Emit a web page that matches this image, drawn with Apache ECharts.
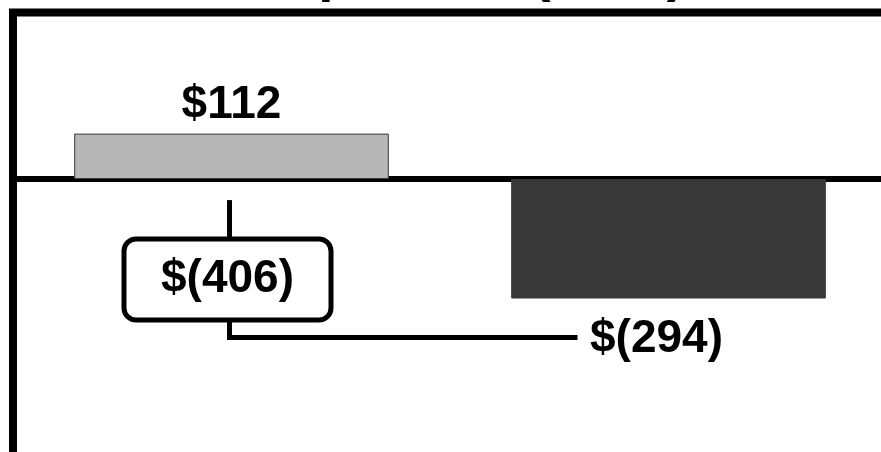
<!DOCTYPE html>
<html>
<head>
<meta charset="utf-8">
<script src="https://cdn.jsdelivr.net/npm/echarts@6/dist/echarts.min.js"></script>
<style>
html, body { margin: 0; padding: 0; background: #fff; }
#chart { width: 881px; height: 452px; }
</style>
</head>
<body>
<div id="chart"></div>
<script>
// data
const titleText = 'Comparison (USD)'
const categories = ['Prior', 'Current']
const values = [112, -294]
const barColors = ['#b7b7b7', '#383838']

const font = '"Liberation Sans", Arial, sans-serif'
// $ formatting, negatives in brackets
const fmt = v => v < 0 ? '$(' + Math.abs(v) + ')' : '$' + v
const diff = values[1] - values[0]

const chart = echarts.init(document.getElementById('chart'))
chart.setOption({
  animation: false,
  title: {
    text: titleText,
    left: 'center',
    top: -53,
    padding: 0,
    textStyle: { fontSize: 55, fontWeight: 'bold', color: '#000', fontFamily: font }
  },
  grid: {
    left: 13,
    top: 12.5,
    width: 874,
    height: 451,
    outerBoundsMode: 'none',
    containLabel: false,
    show: true,
    borderColor: '#000',
    borderWidth: 8
  },
  xAxis: {
    type: 'category',
    data: categories,
    axisLine: { onZero: true, lineStyle: { color: '#000', width: 6 } },
    axisTick: { show: false },
    axisLabel: { show: false },
    splitLine: { show: false }
  },
  yAxis: {
    type: 'value',
    min: -700,
    max: 410,
    axisLine: { show: false },
    axisTick: { show: false },
    axisLabel: { show: false },
    splitLine: { show: false }
  },
  series: [
    {
      type: 'bar',
      barWidth: '72%',
      itemStyle: { borderColor: '#3a3a3a', borderWidth: 1 },
      label: {
        show: true,
        position: 'outside',
        formatter: p => fmt(p.value),
        fontSize: 46,
        fontWeight: 'bold',
        fontFamily: font,
        color: '#000'
      },
      data: values.map((v, i) => ({
        value: v,
        itemStyle: { color: barColors[i] },
        label: v < 0 ? { distance: 18, offset: [-12, 0] } : { distance: 5 }
      }))
    },
    {
      // difference callout
      type: 'custom',
      silent: true,
      z: 5,
      data: [[0, diff]],
      renderItem: (params, api) => {
        const [x0, y0] = api.coord([0, 0])
        const x1 = api.coord([1, 0])[0]
        const yEnd = api.coord([1, values[1]])[1]
        const lx = x0 - 2
        const bx = x0 - 4
        const boxW = 207, boxH = 81
        const boxTop = y0 + 60
        const lineY = yEnd + 39
        return {
          type: 'group',
          children: [
            { type: 'line', shape: { x1: lx, y1: y0 + 21, x2: lx, y2: boxTop }, style: { stroke: '#000', lineWidth: 5 } },
            { type: 'polyline', shape: { points: [[lx, boxTop + boxH], [lx, lineY], [x1 - 91, lineY]] }, style: { stroke: '#000', lineWidth: 5, fill: null, lineJoin: 'miter' } },
            { type: 'rect', shape: { x: bx - boxW / 2, y: boxTop, width: boxW, height: boxH, r: 12 }, style: { fill: '#fff', stroke: '#000', lineWidth: 5 } },
            { type: 'text', x: bx, y: boxTop + boxH / 2, style: { text: fmt(api.value(1)), fontSize: 46, fontWeight: 'bold', fontFamily: font, fill: '#000', align: 'center', verticalAlign: 'middle' } }
          ]
        }
      }
    }
  ]
})
</script>
</body>
</html>
